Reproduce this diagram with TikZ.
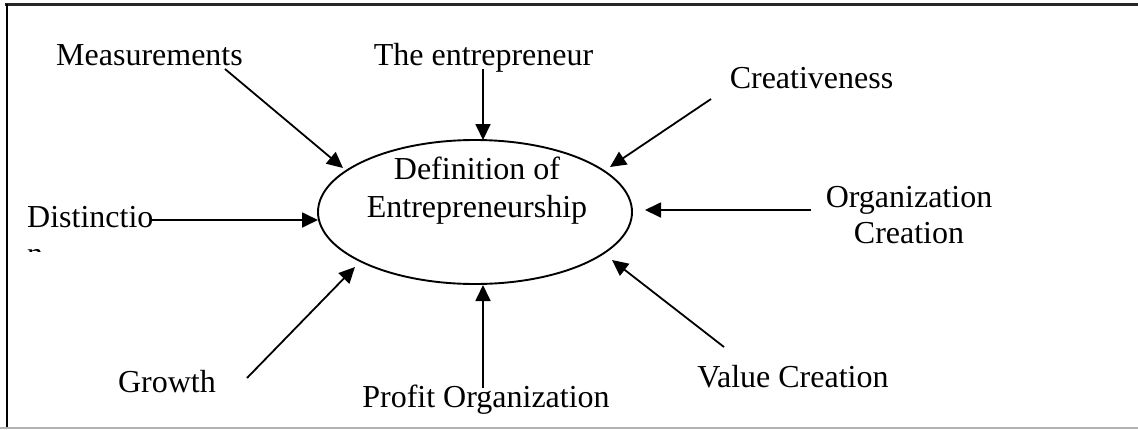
\documentclass[tikz,border=0pt]{standalone}
\usepackage{fontspec}
\setmainfont{Liberation Serif}
\usetikzlibrary{arrows.meta,shapes.geometric}
\begin{document}
\begin{tikzpicture}[x=1pt,y=-1pt,
  lbl/.style={inner sep=0pt, anchor=base, font=\fontsize{32}{37}\selectfont},
  conn/.style={line width=1.8pt, -{Triangle[length=16pt,width=15pt]}}]
\useasboundingbox (0,0) rectangle (1138,429);
% frame
\draw[line width=3pt, black!85] (5,4) -- (1138,4);
\draw[line width=2pt] (6.5,4) -- (6.5,428);
\draw[line width=1.5pt, black!30] (0,428) -- (1138,428);
% centre
\node[draw, ellipse, line width=1.9pt, minimum width=314pt, minimum height=144pt, inner sep=0pt] (def) at (475,212) {};
\node[lbl, align=center, font=\fontsize{32}{38}\selectfont] (deftext) at (477,217) {Definition of\\Entrepreneurship};
% labels
\node[lbl] (meas) at (149.5,65) {Measurements};
\node[lbl] (entr) at (483.5,65) {The entrepreneur};
\node[lbl] (crea) at (811.5,88) {Creativeness};
\node[lbl, anchor=base west] (dist) at (27,227) {Distinctio};
\begin{scope}
\clip (0,0) rectangle (200,251);
\node[lbl, anchor=base west] (distn) at (27,264) {n};
\end{scope}
\node[lbl, align=center, font=\fontsize{32}{36}\selectfont] (orgc) at (909,243) {Organization\\Creation};
\node[lbl] (grow) at (167,392) {Growth};
\node[lbl] (prof) at (486,407) {Profit Organization};
\node[lbl] (valu) at (793,387) {Value Creation};
% connector ends
\coordinate (sM) at (225,69);
\coordinate (sE) at (483,69);
\coordinate (sC) at (711,99);
\coordinate (sD) at (150,220);
\coordinate (sO) at (811,210);
\coordinate (sG) at (247,378);
\coordinate (sP) at (483,388);
\coordinate (sV) at (724,347);
\coordinate (tM) at ([shift={(-132,-44)}]def.center);
\coordinate (tE) at ([shift={(8,-72)}]def.center);
\coordinate (tC) at ([shift={(135,-45)}]def.center);
\coordinate (tD) at ([shift={(-157,8)}]def.center);
\coordinate (tO) at ([shift={(170,-2)}]def.center);
\coordinate (tG) at ([shift={(-120,55)}]def.center);
\coordinate (tP) at ([shift={(8,73)}]def.center);
\coordinate (tV) at ([shift={(137,48)}]def.center);
\foreach \k in {M,E,C,D,O,G,P,V}{\draw[conn] (s\k) -- (t\k);}
\end{tikzpicture}
\end{document}
